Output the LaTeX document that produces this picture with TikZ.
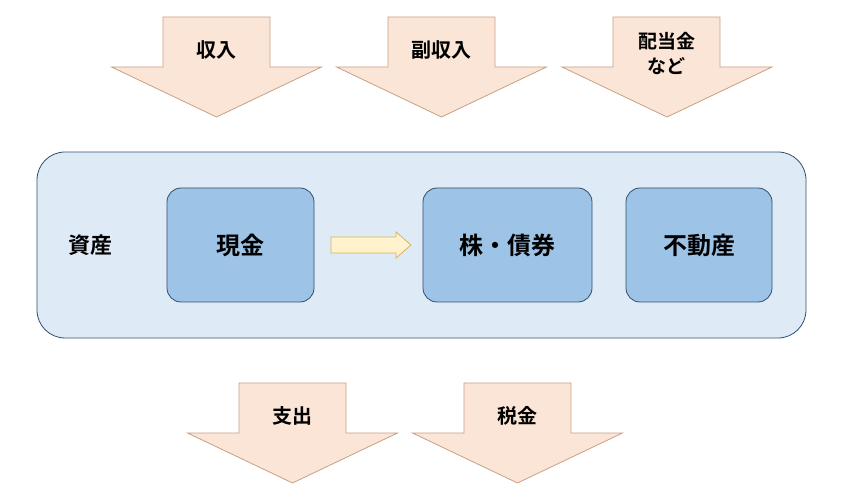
\documentclass[tikz,border=0pt]{standalone}
\usepackage{fontspec}
\newfontfamily\cjk{Noto Sans CJK JP}[BoldFont={Noto Sans CJK JP Bold}]
\definecolor{arrfill}{HTML}{FBE5D6}
\definecolor{arrline}{HTML}{C8A084}
\definecolor{bigfill}{HTML}{DEEBF7}
\definecolor{boxfill}{HTML}{9DC3E6}
\definecolor{dline}{HTML}{2F4F6F}
\definecolor{yfill}{HTML}{FFF2CC}
\definecolor{yline}{HTML}{D6B656}
\begin{document}
\begin{tikzpicture}[x=1pt,y=-1pt,font=\cjk\bfseries,
  darr/.style={fill=arrfill,draw=arrline,line width=0.8pt},
  box/.style={draw=dline,fill=boxfill,rounded corners=14pt,line width=0.8pt},
  lbl/.style={font=\cjk\bfseries\fontsize{20}{23}\selectfont},
  blbl/.style={font=\cjk\bfseries\fontsize{24}{28}\selectfont}]
\useasboundingbox (0,0) rectangle (846,502);
\newcommand{\myDownArr}[4]{% #1 center x, #2 top y, #3 name, #4 text
  \draw[darr] (#1-53.5,#2) -- (#1+53.5,#2) -- (#1+53.5,#2+50) -- (#1+105,#2+50)
    -- (#1,#2+100) -- (#1-105,#2+50) -- (#1-53.5,#2+50) -- cycle;
  \node[lbl,align=center] (#3) at (#1,#2+33) {#4};}
\myDownArr{216.5}{17}{in}{収入}
\myDownArr{441.5}{17}{sub}{副収入}
\draw[darr] (613,17) -- (720,17) -- (720,67) -- (772,67) -- (667,117) -- (562,67) -- (613,67) -- cycle;
\node[align=center,font=\cjk\bfseries\fontsize{19}{25}\selectfont] (div) at (666.5,54) {配当金\\など};
\myDownArr{292.5}{383}{out}{支出}
\myDownArr{517.5}{383}{tax}{税金}
\draw[draw=dline,fill=bigfill,rounded corners=28pt,line width=0.8pt] (37,152) rectangle (806,338);
\node[font=\cjk\bfseries\fontsize{22}{26}\selectfont] (asset) at (90,245) {資産};
\draw[box] (167,188) rectangle (314,302);
\node[blbl] (cash) at (240.5,245) {現金};
\draw[box] (423,188) rectangle (592,302);
\node[blbl] (stock) at (507.5,245) {株・債券};
\draw[box] (626,188) rectangle (772,302);
\node[blbl] (re) at (699,245) {不動産};
\draw[fill=yfill,draw=yline,line width=0.8pt] (331,237) -- (396,237) -- (396,232) -- (411,245) -- (396,258) -- (396,253) -- (331,253) -- cycle;
\end{tikzpicture}
\end{document}
